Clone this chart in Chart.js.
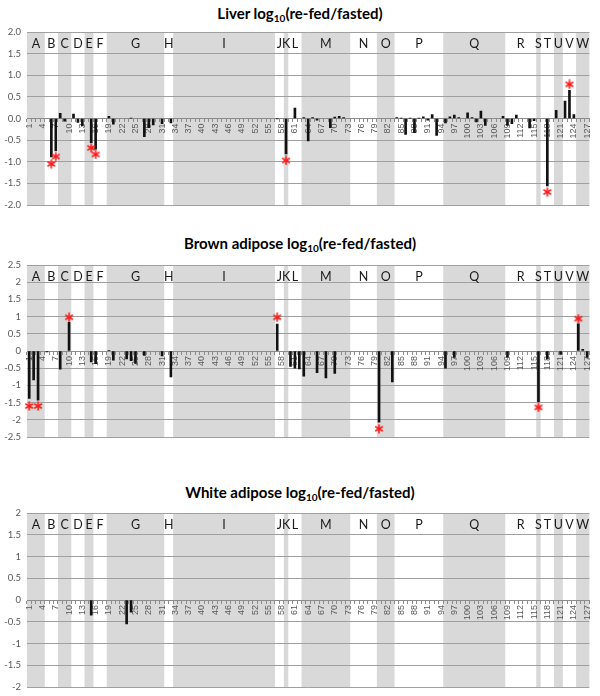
<!DOCTYPE html>
<html>
<head>
<meta charset="utf-8">
<script src="https://cdn.jsdelivr.net/npm/chart.js@4.4.1/dist/chart.umd.min.js"></script>
<style>
  html,body{margin:0;padding:0;background:#fff;}
  body{width:600px;height:696px;position:relative;overflow:hidden;}
  .title{position:absolute;left:0;width:600px;text-align:center;font-family:Lato,'Open Sans',sans-serif;font-weight:bold;font-size:15px;color:#000;line-height:18px;}
  .title sub{font-size:10px;line-height:0;vertical-align:-3px;}
  .wrap{position:absolute;left:0;width:600px;}
</style>
</head>
<body>
<div class="title" style="top:4px">Liver log<sub>10</sub>(re-fed/fasted)</div>
<div class="wrap" style="top:25px;height:187px"><canvas id="c1"></canvas></div>
<div class="title" style="top:234px">Brown adipose log<sub>10</sub>(re-fed/fasted)</div>
<div class="wrap" style="top:258px;height:186px"><canvas id="c2"></canvas></div>
<div class="title" style="top:483px">White adipose log<sub>10</sub>(re-fed/fasted)</div>
<div class="wrap" style="top:506px;height:188px"><canvas id="c3"></canvas></div>
<script>
// ---- categories (1..127) ----
const categories = Array.from({length: 127}, (_, i) => String(i + 1));

// ---- group bands (alternating gray / white, starting gray) ----
const bandLetters = ['A','B','C','D','E','F','G','H','I','J','K','L','M','N','O','P','Q','R','S','T','U','V','W'];
const bandEnds    = [4, 7, 10, 13, 15, 18, 31, 33, 56, 58, 59, 62, 73, 79, 83, 94, 108, 115, 116, 119, 121, 124, 127];

// ---- Liver ----
const liverCats = [6, 7, 8, 9, 11, 12, 13, 15, 16, 19, 20, 24, 27, 28, 29, 31, 33, 57, 59, 61, 63, 64, 65, 66, 69, 70, 71, 72, 84, 85, 86, 87, 88, 89, 90, 91, 92, 93, 95, 96, 97, 98, 100, 101, 102, 103, 104, 108, 109, 110, 111, 114, 115, 118, 120, 122, 123, 124];
const liverVals = [-0.89, -0.75, 0.12, -0.06, 0.10, -0.09, -0.17, -0.56, -0.71, 0.05, -0.13, 0.01, -0.42, -0.21, -0.15, -0.12, -0.10, -0.01, -0.82, 0.24, 0.02, -0.52, 0.02, -0.04, -0.21, 0.03, 0.05, 0.02, 0.02, 0.01, -0.37, 0.01, -0.33, 0.01, 0.04, -0.04, 0.09, -0.39, -0.10, 0.04, 0.08, 0.02, 0.13, 0.02, -0.08, 0.17, -0.16, 0.05, -0.16, -0.12, 0.08, -0.22, -0.05, -1.56, 0.19, 0.40, 0.65, 0.09];
const liverStarCats = [6, 7, 15, 16, 59, 118, 123];
const liverStarVals = [-1.05, -0.88, -0.68, -0.83, -0.97, -1.70, 0.79];

// ---- Brown adipose ----
const brownCats = [1, 2, 3, 5, 8, 10, 15, 16, 19, 20, 23, 24, 25, 27, 31, 33, 57, 60, 61, 62, 63, 66, 68, 70, 80, 83, 95, 97, 109, 116, 118, 121, 125, 126, 127];
const brownVals = [-1.38, -0.84, -1.43, -0.03, -0.53, 0.83, -0.32, -0.37, 0.02, -0.27, -0.23, -0.28, -0.36, -0.13, -0.14, -0.75, 0.78, -0.45, -0.50, -0.52, -0.73, -0.63, -0.78, -0.65, -2.07, -0.90, -0.50, -0.19, -0.18, -1.47, -0.23, -0.10, 0.79, 0.05, -0.19];
const brownStarCats = [1, 3, 10, 57, 80, 116, 125];
const brownStarVals = [-1.60, -1.60, 0.98, 0.98, -2.26, -1.64, 0.94];

// ---- White adipose ----
const whiteCats = [15, 23, 24];
const whiteVals = [-0.35, -0.55, -0.28];
const whiteStarCats = [];
const whiteStarVals = [];

function toSeries(cats, vals) {
  const arr = categories.map(() => null);
  cats.forEach((c, i) => { arr[c - 1] = vals[i]; });
  return arr;
}

function makeAsterisk() {
  const c = document.createElement('canvas');
  c.width = 10; c.height = 10;
  const g = c.getContext('2d');
  g.strokeStyle = '#ff1a1a';
  g.lineWidth = 1.6;
  g.lineCap = 'round';
  for (let k = 0; k < 3; k++) {
    const a = Math.PI / 2 + k * Math.PI / 3;
    g.beginPath();
    g.moveTo(5 + 3.9 * Math.cos(a), 5 + 3.9 * Math.sin(a));
    g.lineTo(5 - 3.9 * Math.cos(a), 5 - 3.9 * Math.sin(a));
    g.stroke();
  }
  return c;
}
const asterisk = makeAsterisk();

const bandPlugin = {
  id: 'bands',
  beforeDraw(chart) {
    const {ctx, chartArea: a, scales: {x}} = chart;
    const w = x.width / categories.length;
    ctx.save();
    ctx.fillStyle = '#d9d9d9';
    let start = 1;
    bandEnds.forEach((end, i) => {
      if (i % 2 === 0) {
        const l = x.getPixelForValue(start - 1) - w / 2;
        const r = x.getPixelForValue(end - 1) + w / 2;
        ctx.fillRect(l, a.top, r - l, a.bottom - a.top);
      }
      start = end + 1;
    });
    ctx.restore();
  },
  afterDraw(chart) {
    const {ctx, chartArea: a, scales: {x}} = chart;
    ctx.save();
    ctx.fillStyle = '#1a1a1a';
    ctx.font = '12.5px Lato, "Open Sans", sans-serif';
    ctx.textAlign = 'center';
    ctx.textBaseline = 'middle';
    let start = 1;
    bandEnds.forEach((end, i) => {
      const cx = (x.getPixelForValue(start - 1) + x.getPixelForValue(end - 1)) / 2;
      ctx.fillText(bandLetters[i], cx, a.top + 12);
      start = end + 1;
    });
    ctx.restore();
  }
};

function makeChart(id, cats, vals, starCats, starVals, yMin, yMax, fixedDecimals) {
  return new Chart(document.getElementById(id), {
    type: 'bar',
    data: {
      labels: categories,
      datasets: [
        {
          type: 'line',
          data: toSeries(starCats, starVals),
          showLine: false,
          pointStyle: asterisk,
          pointRadius: 5,
          order: 0
        },
        {
          type: 'bar',
          data: toSeries(cats, vals),
          backgroundColor: '#111111',
          borderWidth: 0,
          barThickness: 2,
          order: 1
        }
      ]
    },
    options: {
      responsive: true,
      maintainAspectRatio: false,
      animation: false,
      devicePixelRatio: 1,
      layout: {padding: {left: 0, right: 7, top: 7, bottom: 7}},
      plugins: {legend: {display: false}, tooltip: {enabled: false}, title: {display: false}},
      scales: {
        x: {
          position: {y: 0},
          offset: true,
          grid: {display: true, drawOnChartArea: false, drawTicks: true, tickLength: 3, color: '#8c8c8c', offset: true},
          border: {display: true, color: '#8c8c8c', width: 1},
          ticks: {
            autoSkip: false, maxRotation: 90, minRotation: 90, padding: 2,
            color: '#595959',
            font: {family: '"Liberation Sans", Lato, sans-serif', size: 9},
            callback: function (v, i) { return i % 3 === 0 ? this.getLabelForValue(v) : ''; }
          }
        },
        y: {
          min: yMin, max: yMax,
          afterFit: (s) => { s.width = 27; },
          grid: {color: '#a0a0a0', drawTicks: true, tickLength: 6, tickColor: 'rgba(0,0,0,0)', lineWidth: 1},
          border: {display: false},
          ticks: {
            stepSize: 0.5, padding: 0, color: '#595959',
            font: {family: 'Lato, "Liberation Sans", sans-serif', size: 9.5},
            callback: (v) => fixedDecimals ? v.toFixed(1) : String(v)
          }
        }
      }
    },
    plugins: [bandPlugin]
  });
}

makeChart('c1', liverCats, liverVals, liverStarCats, liverStarVals, -2, 2, true);
makeChart('c2', brownCats, brownVals, brownStarCats, brownStarVals, -2.5, 2.5, false);
makeChart('c3', whiteCats, whiteVals, whiteStarCats, whiteStarVals, -2, 2, false);
</script>
</body>
</html>
